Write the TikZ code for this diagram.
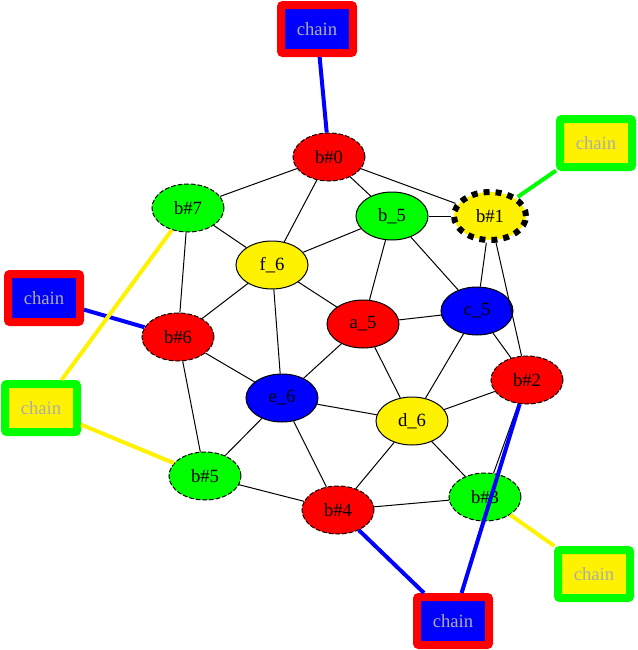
\documentclass[tikz,border=0pt]{standalone}
\usepackage{fontspec}
\setmainfont{Liberation Serif}
\usetikzlibrary{shapes.geometric}
\definecolor{chaintext}{RGB}{172,172,172}
\begin{document}
\begin{tikzpicture}[x=0.75pt,y=-0.75pt,
 gv/.style={ellipse,draw=black,line width=0.75pt,minimum width=54pt,minimum height=36pt,inner sep=0pt,font=\fontsize{14}{16}\selectfont},
 bnode/.style={gv,dash pattern=on 3.5pt off 1.5pt},
 chainbox/.style={rectangle,rounded corners=1.5pt,line width=6pt,minimum width=54pt,minimum height=36pt,inner sep=0pt,text=chaintext,font=\fontsize{14}{16}\selectfont},
 redchain/.style={chainbox,draw=red,fill=blue},
 greenchain/.style={chainbox,draw=green,fill=yellow},
 e/.style={line width=0.75pt},
 ce/.style={line width=3pt}]
\useasboundingbox (0,0) rectangle (637,650);
% nodes
\node[bnode,fill=red] (b0) at (329,157) {b\#0};
\node[bnode,fill=green] (b7) at (188,208) {b\#7};
\node[gv,fill=green] (b5s) at (392,216) {b\_5};
\node[gv,fill=yellow,line width=4.5pt,dash pattern=on 4.5pt off 4.5pt] (b1) at (490,216) {b\#1};
\node[gv,fill=yellow] (f6) at (272,265) {f\_6};
\node[bnode,fill=red] (b6) at (178,337) {b\#6};
\node[gv,fill=red] (a5) at (363,324) {a\_5};
\node[gv,fill=blue] (c5) at (477,311) {c\_5};
\node[bnode,fill=red] (b2) at (527,380) {b\#2};
\node[gv,fill=blue] (e6) at (282,398) {e\_6};
\node[gv,fill=yellow] (d6) at (412,421) {d\_6};
\node[bnode,fill=green] (b5) at (205,476) {b\#5};
\node[bnode,fill=red] (b4) at (338,510) {b\#4};
\node[bnode,fill=green] (b3) at (485,497) {b\#3};
\node[redchain] (ct) at (317,29) {chain};
\node[greenchain] (crt) at (596,143) {chain};
\node[redchain] (cl) at (44,298) {chain};
\node[greenchain] (cll) at (41,408) {chain};
\node[greenchain] (crb) at (594,574) {chain};
\node[redchain] (cb) at (453,621) {chain};
% black edges
\foreach \a/\b in {b0/b7,b0/f6,b0/b5s,b0/b1,b7/f6,b7/b6,b5s/f6,b5s/b1,b5s/a5,b5s/c5,b1/c5,b1/b2,f6/b6,f6/a5,f6/e6,b6/e6,b6/b5,a5/c5,a5/e6,a5/d6,c5/b2,c5/d6,b2/d6,b2/b3,e6/d6,e6/b5,e6/b4,d6/b4,d6/b3,b5/b4,b4/b3}
  \draw[e] (\a) -- (\b);
% coloured edges
\draw[ce,blue] (ct) -- (b0);
\draw[ce,green] (crt) -- (b1);
\draw[ce,blue] (cl) -- (b6);
\draw[ce,yellow] (cll) -- (b7);
\draw[ce,yellow] (cll) -- (b5);
\draw[ce,yellow] (crb) -- (b3);
\draw[ce,blue] (cb) -- (b4);
\draw[ce,blue] (cb) -- (b2);
\end{tikzpicture}
\end{document}
